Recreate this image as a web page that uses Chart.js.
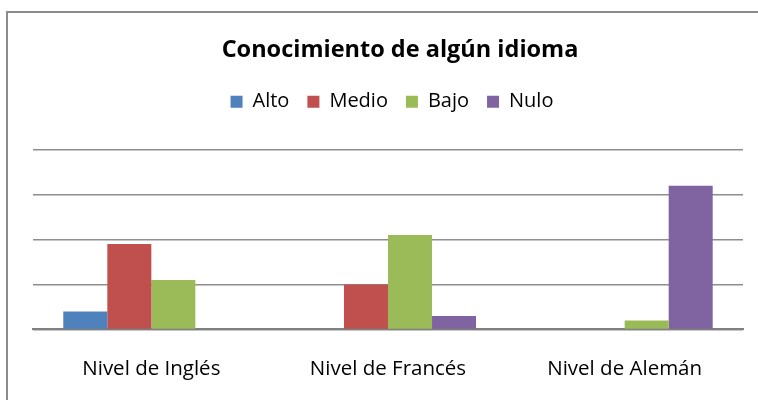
<!DOCTYPE html>
<html>
<head>
<meta charset="utf-8">
<script src="https://cdn.jsdelivr.net/npm/chart.js@4.4.1/dist/chart.umd.min.js"></script>
<style>
    html, body { margin: 0; padding: 0; background: #fff; overflow: hidden; }
    canvas { display: block; }
</style>
</head>
<body>
<canvas id="idiomas-chart" width="758" height="400"></canvas>
<script>
const categories = ['Nivel de Inglés', 'Nivel de Francés', 'Nivel de Alemán'];
const seriesNames = ['Alto', 'Medio', 'Bajo', 'Nulo'];
const alto = [4, 0, 0];
const medio = [19, 10, 0];
const bajo = [11, 21, 2];
const nulo = [0, 3, 32];
const yTicks = [0, 10, 20, 30, 40];

const colors = ['#4F81BD', '#C0504D', '#9BBB59', '#8064A2'];
const FONT = '"Open Sans", sans-serif';

// the original frame is cropped on the right, so title and legend sit a bit right of the plot centre
const shiftHeader = {
    id: 'shiftHeader',
    afterLayout(chart) {
        if (chart.titleBlock) {
            chart.titleBlock.left += 12;
            chart.titleBlock.right += 12;
        }
        if (chart.legend) {
            chart.legend.left += 4;
            chart.legend.right += 4;
        }
    }
};

// chart frame: only the top and left edges fall inside the picture
const chartFrame = {
    id: 'chartFrame',
    beforeDraw(chart) {
        const ctx = chart.ctx;
        ctx.save();
        ctx.strokeStyle = '#8c8c8c';
        ctx.lineWidth = 2;
        ctx.beginPath();
        ctx.moveTo(7, chart.height);
        ctx.lineTo(7, 12);
        ctx.lineTo(chart.width, 12);
        ctx.stroke();
        ctx.restore();
    }
};

function initializeChart() {
    const canvas = document.getElementById('idiomas-chart');
    if (!canvas) {
        console.error('Canvas element not found');
        return;
    }

    const values = [alto, medio, bajo, nulo];

    const chartConfig = {
        type: 'bar',
        data: {
            labels: categories,
            datasets: seriesNames.map((name, i) => ({
                label: name,
                data: values[i],
                backgroundColor: colors[i],
                borderWidth: 0,
                categoryPercentage: 0.744,
                barPercentage: 1
            }))
        },
        options: {
            responsive: false,
            animation: false,
            layout: {
                padding: { left: 33, right: 15, top: 36.5, bottom: 0 }
            },
            scales: {
                y: {
                    min: yTicks[0],
                    max: yTicks[yTicks.length - 1],
                    afterBuildTicks: axis => {
                        axis.ticks = yTicks.map(v => ({ value: v }));
                    },
                    ticks: { display: false },
                    border: { display: false },
                    grid: {
                        drawTicks: false,
                        color: '#8e8e8e',
                        lineWidth: 1.5
                    }
                },
                x: {
                    grid: { display: false },
                    border: { color: '#808080', width: 2 },
                    ticks: {
                        color: '#000',
                        padding: 19,
                        font: { family: FONT, size: 20.5 }
                    }
                }
            },
            plugins: {
                title: {
                    display: true,
                    text: 'Conocimiento de algún idioma',
                    color: '#000',
                    font: { family: FONT, size: 23.5, weight: 'bold' },
                    padding: { top: 0, bottom: 9 }
                },
                legend: {
                    display: true,
                    labels: {
                        color: '#000',
                        boxWidth: 12,
                        boxHeight: 12,
                        padding: 18,
                        font: { family: FONT, size: 20 }
                    }
                },
                // blank spacer between legend and plot
                subtitle: {
                    display: true,
                    text: ' ',
                    weight: 500,
                    font: { size: 10 },
                    padding: { top: 0, bottom: 16 }
                },
                tooltip: { enabled: false }
            }
        },
        plugins: [shiftHeader, chartFrame]
    };

    new Chart(canvas, chartConfig);
}

initializeChart();
</script>
</body>
</html>
